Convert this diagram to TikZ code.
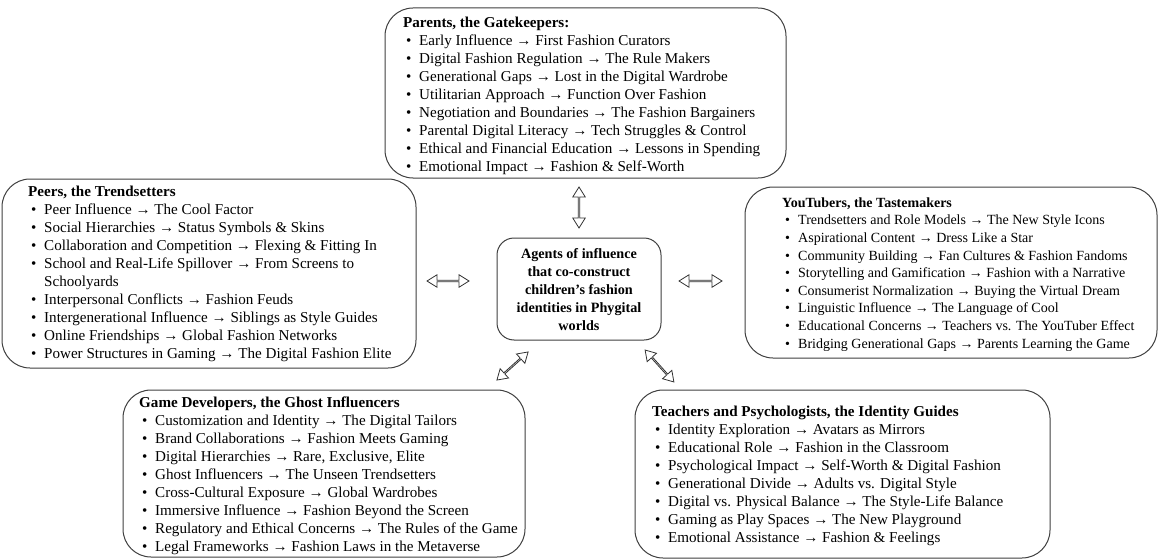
\documentclass[tikz,border=0pt]{standalone}
\usepackage{fontspec}
\setmainfont{Liberation Serif}
\usetikzlibrary{shapes.arrows}

% bullet item: bullet glyph, then the text at a fixed hanging indent
\newcommand{\itm}[1]{\makebox[16pt][l]{\hspace{3pt}•}#1}
\newcommand{\cont}{\makebox[16pt][l]{}}
\newcommand{\firstline}{\rule{0pt}{13pt}}

\begin{document}
\begin{tikzpicture}[x=1pt,y=-1pt,
  panel/.style={draw=black!75, line width=1pt, rounded corners=28pt,
    inner sep=0pt, fill=white},
  hub/.style={panel, rounded corners=17pt},
  listtext/.style={anchor=north west, inner sep=0pt, align=left,
    font=\fontsize{15.1}{18}\selectfont},
  smalllist/.style={listtext, font=\fontsize{14}{17.6}\selectfont},
  hubtext/.style={anchor=north, inner sep=0pt, align=center,
    font=\fontsize{14.2}{18}\selectfont\bfseries},
  linkarrow/.style={double arrow, draw=black!80, line width=0.8pt, fill=white,
    inner sep=0pt, minimum height=42pt, minimum width=12.5pt,
    double arrow head extend=3pt, double arrow tip angle=64}
]
\useasboundingbox (0,0) rectangle (1161,559);

% ---- boxes ----
\node[panel, minimum width=401pt, minimum height=170pt] (parents) at (585.5,93) {};
\node[panel, minimum width=414pt, minimum height=189pt] (peers) at (209,273.5) {};
\node[panel, minimum width=412pt, minimum height=171pt] (youtubers) at (951,272.5) {};
\node[hub, minimum width=164pt, minimum height=102pt] (hub) at (579,289) {};
\node[panel, minimum width=402pt, minimum height=167pt] (devs) at (324,473.5) {};
\node[panel, minimum width=415pt, minimum height=168pt] (teachers) at (842.5,474) {};

% ---- central statement ----
\node[hubtext] (hubT) at (579,245.3) {\firstline Agents of influence\\that co-construct\\children's fashion\\identities in Phygital\\worlds};

% ---- lists ----
\node[listtext] (parentsT) at (403,14.5) {\firstline\textbf{Parents, the Gatekeepers:}\\
\itm{Early Influence → First Fashion Curators}\\
\itm{Digital Fashion Regulation → The Rule Makers}\\
\itm{Generational Gaps → Lost in the Digital Wardrobe}\\
\itm{Utilitarian Approach → Function Over Fashion}\\
\itm{Negotiation and Boundaries → The Fashion Bargainers}\\
\itm{Parental Digital Literacy → Tech Struggles \& Control}\\
\itm{Ethical and Financial Education → Lessons in Spending}\\
\itm{Emotional Impact → Fashion \& Self-Worth}};

\node[listtext] (peersT) at (28,183) {\firstline\textbf{Peers, the Trendsetters}\\
\itm{Peer Influence → The Cool Factor}\\
\itm{Social Hierarchies → Status Symbols \& Skins}\\
\itm{Collaboration and Competition → Flexing \& Fitting In}\\
\itm{School and Real-Life Spillover → From Screens to}\\
\cont Schoolyards\\
\itm{Interpersonal Conflicts → Fashion Feuds}\\
\itm{Intergenerational Influence → Siblings as Style Guides}\\
\itm{Online Friendships → Global Fashion Networks}\\
\itm{Power Structures in Gaming → The Digital Fashion Elite}};

\node[smalllist] (youtubersT) at (782,194) {\firstline\textbf{YouTubers, the Tastemakers}\\
\itm{Trendsetters and Role Models → The New Style Icons}\\
\itm{Aspirational Content → Dress Like a Star}\\
\itm{Community Building → Fan Cultures \& Fashion Fandoms}\\
\itm{Storytelling and Gamification → Fashion with a Narrative}\\
\itm{Consumerist Normalization → Buying the Virtual Dream}\\
\itm{Linguistic Influence → The Language of Cool}\\
\itm{Educational Concerns → Teachers vs. The YouTuber Effect}\\
\itm{Bridging Generational Gaps → Parents Learning the Game}};

\node[listtext] (devsT) at (139,394.3) {\firstline\textbf{Game Developers, the Ghost Influencers}\\
\itm{Customization and Identity → The Digital Tailors}\\
\itm{Brand Collaborations → Fashion Meets Gaming}\\
\itm{Digital Hierarchies → Rare, Exclusive, Elite}\\
\itm{Ghost Influencers → The Unseen Trendsetters}\\
\itm{Cross-Cultural Exposure → Global Wardrobes}\\
\itm{Immersive Influence → Fashion Beyond the Screen}\\
\itm{Regulatory and Ethical Concerns → The Rules of the Game}\\
\itm{Legal Frameworks → Fashion Laws in the Metaverse}};

\node[listtext] (teachersT) at (652,403.7) {\firstline\textbf{Teachers and Psychologists, the Identity Guides}\\
\itm{Identity Exploration → Avatars as Mirrors}\\
\itm{Educational Role → Fashion in the Classroom}\\
\itm{Psychological Impact → Self-Worth \& Digital Fashion}\\
\itm{Generational Divide → Adults vs. Digital Style}\\
\itm{Digital vs. Physical Balance → The Style-Life Balance}\\
\itm{Gaming as Play Spaces → The New Playground}\\
\itm{Emotional Assistance → Fashion \& Feelings}};

% ---- two-way links between the hub and each group ----
\node[linkarrow, rotate=90, minimum height=41pt] (linkTop) at (579,207.5) {};
\node[linkarrow, minimum height=42pt] (linkLeft) at (448,281) {};
\node[linkarrow, minimum height=43pt] (linkRight) at (700.5,281) {};
\node[linkarrow, rotate=42, minimum height=42pt] (linkLL) at (512.5,366) {};
\node[linkarrow, rotate=-48, minimum height=43pt] (linkLR) at (659.5,366) {};
\end{tikzpicture}
\end{document}
